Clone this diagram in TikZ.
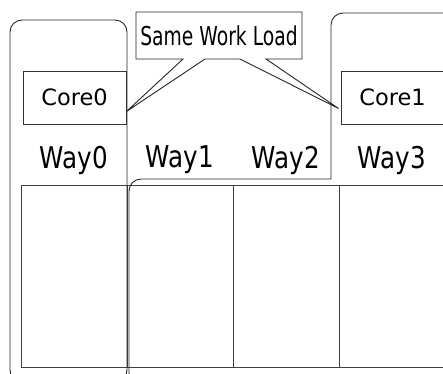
\documentclass[tikz,border=0pt]{standalone}
\usepackage{fontspec}
\setmainfont{DejaVu Sans}
\newfontfamily\wayfont[FakeStretch=0.82]{DejaVu Sans}
\newfontfamily\bubblefont[FakeStretch=0.72]{DejaVu Sans}
\begin{document}
\begin{tikzpicture}[x=1pt,y=-1pt,
  line width=0.9pt,
  part/.style={draw=black!85, rounded corners=12pt},
  corebox/.style={draw=black!80, rectangle, inner sep=0pt, minimum height=53pt,
    minimum width=103pt, font=\fontsize{22.5}{26}\selectfont},
  waylabel/.style={inner sep=0pt, font=\wayfont\fontsize{30}{34}\selectfont},
  calltext/.style={inner sep=0pt, font=\bubblefont\fontsize{26}{30}\selectfont},
  cell/.style={draw=black!75}]
\useasboundingbox (0,0) rectangle (443,373);
\clip (0,0) rectangle (443,373);

% cache ways
\draw[cell] (21,185) rectangle (470,367);
\foreach \x in {127,233,339} \draw[cell] (\x,185) -- (\x,367);

% partition of Core0
\draw[part] (10,20) rectangle (127,382);
% partition of Core1
\draw[part] (331,179) -- (331,13) -- (470,13) -- (470,385) -- (129,385) -- (129,179) -- (331,179);

% cores
\node[corebox] (core0) at (74.5,97.5) {Core0};
\node[corebox] (core1) at (392.5,97.5) {Core1};
\coordinate (tip0) at ([yshift=-14pt]core0.east);
\coordinate (tip1) at ([yshift=-11pt,xshift=-2pt]core1.west);

% way labels
\node[waylabel] (w0) at (74,160) {Way0};
\node[waylabel] (w1) at (180,160) {Way1};
\node[waylabel] (w2) at (286,160) {Way2};
\node[waylabel] (w3) at (392,160) {Way3};

% speech bubble
\coordinate (b1) at (136,12);
\coordinate (b2) at (302,59);
\draw[draw=black!85, fill=white]
  (b1) -- (b1 -| b2) -- (b2) -- (266,59) -- (tip1) -- (240,59) -- (205,59)
  -- (tip0) -- (183,59) -- (b1 |- b2) -- cycle;
\node[calltext] (say) at (219,36) {Same Work Load};
\end{tikzpicture}
\end{document}
